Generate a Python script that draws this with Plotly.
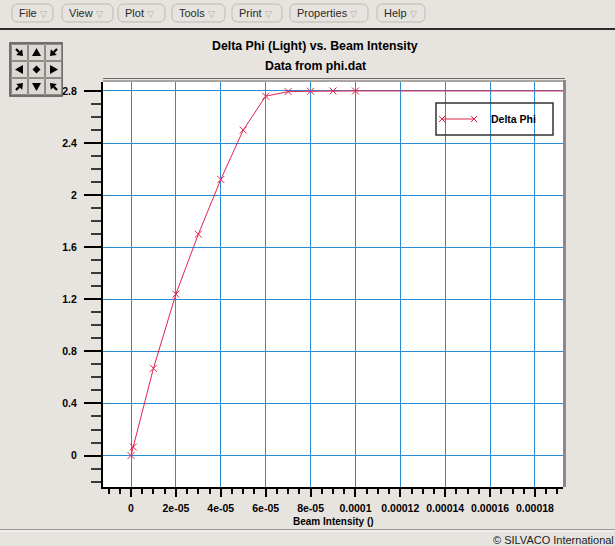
import plotly.graph_objects as go

# ---- data: Delta Phi (light) against beam intensity, from phi.dat ----
beam_intensity = [0, 1e-6, 1e-5, 2e-5, 3e-5, 4e-5, 5e-5, 6e-5, 7e-5, 8e-5, 9e-5, 1e-4, 2e-4]
delta_phi = [0, 0.066, 0.67, 1.24, 1.70, 2.12, 2.50, 2.76, 2.795, 2.798, 2.80, 2.80, 2.80]

x_tickvals = [0, 2e-5, 4e-5, 6e-5, 8e-5, 1e-4, 1.2e-4, 1.4e-4, 1.6e-4, 1.8e-4]
x_ticktext = ["0", "2e-05", "4e-05", "6e-05", "8e-05", "0.0001", "0.00012", "0.00014", "0.00016", "0.00018"]
y_tickvals = [0, 0.4, 0.8, 1.2, 1.6, 2.0, 2.4, 2.8]
y_ticktext = ["0", "0.4", "0.8", "1.2", "1.6", "2", "2.4", "2.8"]

menu_labels = ["File", "View", "Plot", "Tools", "Print", "Properties", "Help"]

# ---- page geometry (pixels) ----
W, H = 615, 546
L, R, T, B = 103, 563, 82, 487

RED = "#e2234d"
BLUE = "#2a8cd3"
BG = "#e7e3df"
FONT = "Liberation Sans"


def fx(p):
    return (p - L) / (R - L)


def fy(p):
    return (B - p) / (B - T)


def P(x, y):
    return f"{fx(x):.5f},{fy(y):.5f}"


def rrect_path(x0, y0, x1, y1, r):
    return ("M " + P(x0 + r, y0) + " L " + P(x1 - r, y0) + " Q " + P(x1, y0) + " " + P(x1, y0 + r)
            + " L " + P(x1, y1 - r) + " Q " + P(x1, y1) + " " + P(x1 - r, y1)
            + " L " + P(x0 + r, y1) + " Q " + P(x0, y1) + " " + P(x0, y1 - r)
            + " L " + P(x0, y0 + r) + " Q " + P(x0, y0) + " " + P(x0 + r, y0) + " Z")


def poly_path(pts):
    return "M " + " L ".join(P(x, y) for x, y in pts) + " Z"


shapes = []
annotations = []


def line(x0, y0, x1, y1, color, width):
    shapes.append(dict(type="line", xref="paper", yref="paper", x0=fx(x0), y0=fy(y0),
                       x1=fx(x1), y1=fy(y1), line=dict(color=color, width=width), layer="above"))


def rect(x0, y0, x1, y1, fill, color, width):
    shapes.append(dict(type="rect", xref="paper", yref="paper", x0=fx(x0), y0=fy(y0),
                       x1=fx(x1), y1=fy(y1), fillcolor=fill, line=dict(color=color, width=width),
                       layer="above"))


def text(x, y, s, size, color="#000", xanchor="center", bold=False):
    annotations.append(dict(xref="paper", yref="paper", x=fx(x), y=fy(y), text=s, showarrow=False,
                            xanchor=xanchor, yanchor="middle",
                            font=dict(family=FONT, size=size, color=color,
                                      weight="bold" if bold else "normal")))


# ---- menu bar ----
menu_spans = [(12, 53), (62, 113), (118, 165), (172, 225), (232, 282), (290, 368), (377, 425)]
for label, (a, b) in zip(menu_labels, menu_spans):
    shapes.append(dict(type="path", xref="paper", yref="paper", path=rrect_path(a, 4, b, 22, 6),
                       line=dict(color="#bdb9b4", width=1), fillcolor="rgba(0,0,0,0)", layer="above"))
    text(a + 5, 13.5, label + " <span style='color:#b0aca8;font-size:9px'>▽</span>", 11,
         color="#2a2a2a", xanchor="left")
line(0, 29, W, 29, "#2b2b2b", 2)

# ---- titles ----
text(315, 46, "Delta Phi (Light) vs. Beam Intensity", 12.3, bold=True)
text(315, 66, "Data from phi.dat", 12.3, bold=True)
line(L, 78.5, R + 2, 78.5, "#6a6a6a", 1)

# ---- navigation pad ----
rect(10, 43, 62, 96, "rgba(0,0,0,0)", "#4a4a4a", 1.5)
arrow_dirs = [[(1, 1), (0, -1), (-1, 1)],
              [(-1, 0), None, (1, 0)],
              [(1, -1), (0, 1), (-1, -1)]]
for r_i in range(3):
    for c_i in range(3):
        x0 = 11 + 17 * c_i
        y0 = 44 + 17 * r_i
        rect(x0 + 0.5, y0 + 0.5, x0 + 16.5, y0 + 16.5, "#dcd8d3", "#8f8b86", 1)
        cx, cy = x0 + 8.5, y0 + 8.5
        d = arrow_dirs[r_i][c_i]
        if d is None:
            pts = [(cx - 4, cy), (cx, cy - 4), (cx + 4, cy), (cx, cy + 4)]
            shapes.append(dict(type="path", xref="paper", yref="paper", path=poly_path(pts),
                               fillcolor="#000", line=dict(width=0), layer="above"))
            continue
        dx, dy = d
        n = (dx * dx + dy * dy) ** 0.5
        dx, dy = dx / n, dy / n
        px_, py_ = -dy, dx
        if abs(dx) > 0.1 and abs(dy) > 0.1:
            tip = (cx + 5 * dx, cy + 5 * dy)
            bc = (cx - 0.5 * dx, cy - 0.5 * dy)
            hw = 4.2
            pts = [tip, (bc[0] + hw * px_, bc[1] + hw * py_), (bc[0] - hw * px_, bc[1] - hw * py_)]
            shapes.append(dict(type="path", xref="paper", yref="paper", path=poly_path(pts),
                               fillcolor="#000", line=dict(width=0), layer="above"))
            line(bc[0], bc[1], cx - 5 * dx, cy - 5 * dy, "#000", 2.2)
        else:
            tip = (cx + 4.5 * dx, cy + 4.5 * dy)
            bc = (cx - 3.5 * dx, cy - 3.5 * dy)
            hw = 4.5
            pts = [tip, (bc[0] + hw * px_, bc[1] + hw * py_), (bc[0] - hw * px_, bc[1] - hw * py_)]
            shapes.append(dict(type="path", xref="paper", yref="paper", path=poly_path(pts),
                               fillcolor="#000", line=dict(width=0), layer="above"))

# ---- plot frame ----
line(L, T - 1, R + 1, T - 1, "#a9a6a2", 2)
line(R + 1.5, T - 2, R + 1.5, B, "#8c8a87", 3)

# ---- legend (transparent box) ----
rect(436, 103, 553, 135, "rgba(0,0,0,0)", "#333", 1.5)
line(442, 119, 474, 119, RED, 1)
for mx in (442, 474):
    line(mx - 3, 116, mx + 3, 122, RED, 1)
    line(mx - 3, 122, mx + 3, 116, RED, 1)
text(489, 119.5, "Delta Phi", 10.5, xanchor="left", bold=True)

# ---- axis title & status bar ----
text(333, 521, "Beam Intensity ()", 10, bold=True)
line(0, 529.5, W, 529.5, "#9c9995", 1)
line(0, 531, W, 531, "#fafafa", 1)
text(491, 540, "© SILVACO International", 11, color="#222", xanchor="left")

fig = go.Figure()
fig.add_trace(go.Scatter(
    x=beam_intensity, y=delta_phi, mode="lines+markers", name="Delta Phi",
    line=dict(color=RED, width=1),
    marker=dict(symbol="x-thin-open", size=7, line=dict(color=RED, width=1)),
    showlegend=False,
))

fig.update_layout(
    width=W, height=H,
    margin=dict(l=L, r=W - R, t=T, b=H - B, pad=0),
    paper_bgcolor=BG, plot_bgcolor="#ffffff",
    shapes=shapes, annotations=annotations,
    xaxis=dict(
        range=[-1.2476e-5, 1.9248e-4], tickmode="array", tickvals=x_tickvals, ticktext=x_ticktext,
        showgrid=True, gridcolor=BLUE, gridwidth=1.2, zeroline=False,
        showline=True, linecolor="#000", linewidth=2,
        ticks="outside", ticklen=8, tickwidth=2, tickcolor="#000", ticklabelstandoff=2,
        tickfont=dict(family=FONT, size=10.5, color="#000", weight="bold"),
        minor=dict(tick0=0, dtick=5e-6, ticks="outside", ticklen=5, tickwidth=2,
                   tickcolor="#000", showgrid=False),
        fixedrange=True,
    ),
    yaxis=dict(
        range=[-0.2415, 2.869], tickmode="array", tickvals=y_tickvals, ticktext=y_ticktext,
        showgrid=True, gridcolor=BLUE, gridwidth=1.2, zeroline=False,
        showline=True, linecolor="#000", linewidth=2,
        ticks="outside", ticklen=17, tickwidth=2, tickcolor="#000", ticklabelstandoff=5,
        tickfont=dict(family=FONT, size=10.5, color="#000", weight="bold"),
        minor=dict(tick0=0, dtick=0.1, ticks="outside", ticklen=10, tickwidth=2,
                   tickcolor="#3a3a3a", showgrid=False),
        fixedrange=True,
    ),
)

fig.write_html("out.html")
